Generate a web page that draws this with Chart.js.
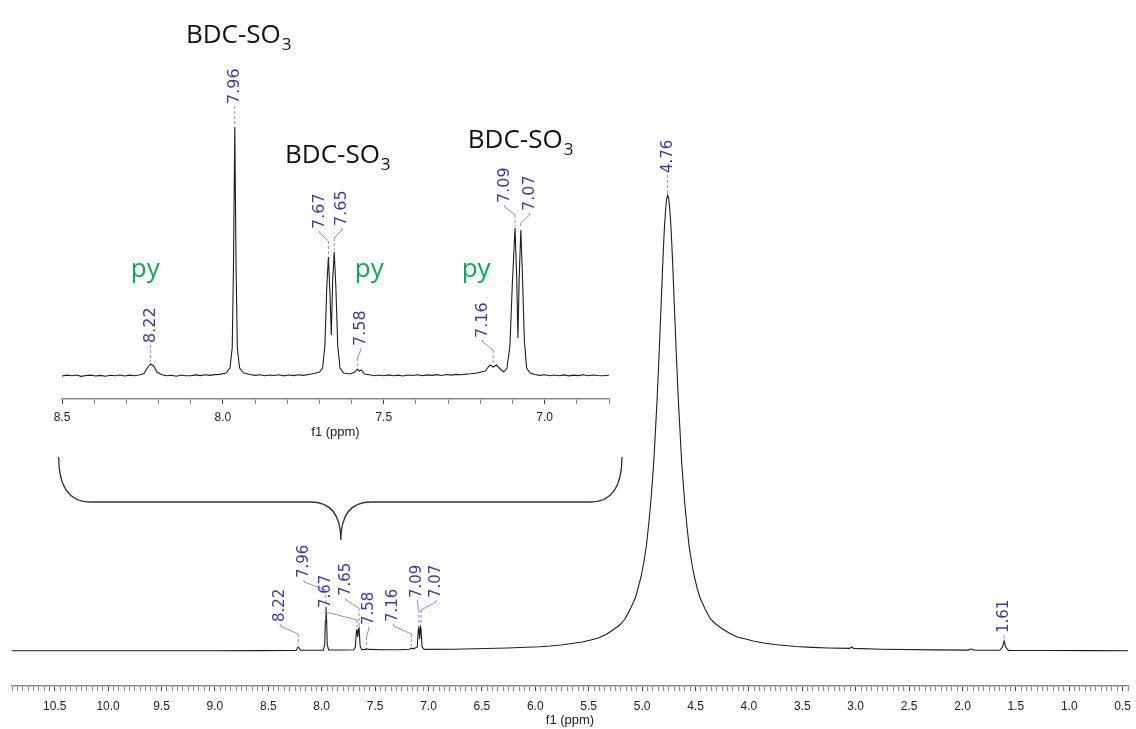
<!DOCTYPE html>
<html>
<head>
<meta charset="utf-8">
<script src="https://cdn.jsdelivr.net/npm/chart.js@4.4.1/dist/chart.umd.min.js"></script>
<style>
    body { margin: 0; background: #fff; }
    #wrap { position: relative; width: 1136px; height: 729px; }
    #mainChart { position: absolute; left: 0; top: 0; }
    #insetChart { position: absolute; left: 0; top: 0; }
</style>
</head>
<body>
<div id="wrap">
    <canvas id="mainChart" width="1136" height="729"></canvas>
    <canvas id="insetChart" width="640" height="445"></canvas>
</div>
<script>
/* Spectrum data (chemical shift in ppm, intensity) */
var mainShift = [10.9, 10.5, 10.0, 9.5, 9.0, 8.6, 8.3, 8.24, 8.228, 8.22, 8.212, 8.2, 8.1,
    7.985, 7.972, 7.966, 7.96, 7.954, 7.948, 7.935, 7.8, 7.7, 7.685, 7.675, 7.67, 7.663, 7.655,
    7.65, 7.64, 7.625, 7.59, 7.58, 7.57, 7.4, 7.26, 7.18, 7.165, 7.155, 7.14, 7.105, 7.095, 7.09,
    7.083, 7.075, 7.07, 7.06, 7.04, 6.76, 6.26, 5.96, 5.86, 5.76, 5.66, 5.56, 5.48, 5.41, 5.33,
    5.26, 5.21, 5.16, 5.11, 5.06, 5.01, 4.985, 4.96, 4.94, 4.92, 4.905, 4.89, 4.875, 4.86, 4.85,
    4.84, 4.83, 4.82, 4.81, 4.80, 4.79, 4.78, 4.77, 4.76, 4.75, 4.74, 4.73, 4.72, 4.71, 4.70,
    4.69, 4.68, 4.67, 4.66, 4.645, 4.63, 4.615, 4.60, 4.58, 4.56, 4.535, 4.51, 4.485, 4.46, 4.41,
    4.36, 4.31, 4.26, 4.185, 4.11, 4.03, 3.96, 3.86, 3.76, 3.66, 3.56, 3.41, 3.26, 3.06, 3.035,
    3.02, 2.76, 2.26, 1.95, 1.92, 1.89, 1.65, 1.625, 1.61, 1.595, 1.57, 1.2, 0.8, 0.45];
var mainIntensity = [0.2, 0.3, 0.2, 0.3, 0.3, 0.4, 0.5, 0.6, 3, 4, 3, 0.7, 0.7,
    0.9, 6, 30, 44, 30, 6, 1, 1, 1.2, 4, 20, 22, 14, 22,
    23, 5, 1.3, 1.6, 2.3, 1.6, 1.3, 1.3, 1.8, 2.6, 2.6, 2.2, 4, 22, 25,
    12, 24, 22, 4, 1.6, 1.8, 3, 4.3, 5, 6, 7.5, 9, 11, 13, 17,
    22, 26, 32, 42, 54, 74, 88, 105, 125, 147, 168, 190, 220, 250, 274,
    298, 325, 351, 378, 403, 425, 441, 452, 456, 452, 441, 425, 403, 378, 351,
    325, 298, 274, 250, 220, 190, 168, 147, 125, 105, 88, 74, 63, 54, 42,
    32, 27, 23, 18, 14, 12, 10, 8, 6.5, 5.5, 4.5, 3.6, 3, 2.6, 4,
    2.6, 1.8, 1.1, 0.9, 2, 0.9, 0.7, 4, 10, 4, 0.6, 0.5, 0.4, 0.3];

var insetShift = [8.5, 8.485, 8.47, 8.455, 8.44, 8.425, 8.41, 8.395, 8.38, 8.365, 8.35, 8.335,
    8.32, 8.305, 8.29, 8.275, 8.26, 8.245, 8.235, 8.225, 8.215, 8.205, 8.19, 8.175, 8.16, 8.145,
    8.13, 8.115, 8.10, 8.085, 8.07, 8.055, 8.04, 8.025, 8.01, 7.99, 7.978, 7.971, 7.967, 7.963,
    7.959, 7.955, 7.948, 7.935, 7.915, 7.9, 7.885, 7.87, 7.855, 7.84, 7.825, 7.81, 7.795, 7.78,
    7.765, 7.75, 7.735, 7.715, 7.70, 7.69, 7.683, 7.677, 7.672, 7.667, 7.663, 7.659, 7.654, 7.649,
    7.643, 7.636, 7.625, 7.605, 7.59, 7.582, 7.576, 7.57, 7.56, 7.545, 7.53, 7.515, 7.5, 7.485,
    7.47, 7.455, 7.44, 7.425, 7.41, 7.395, 7.38, 7.365, 7.35, 7.335, 7.32, 7.305, 7.29, 7.275,
    7.26, 7.245, 7.23, 7.21, 7.185, 7.17, 7.16, 7.15, 7.138, 7.127, 7.117, 7.108, 7.1, 7.092,
    7.087, 7.083, 7.079, 7.074, 7.069, 7.063, 7.056, 7.045, 7.03, 7.015, 7.0, 6.985, 6.97, 6.955,
    6.94, 6.925, 6.91, 6.895, 6.88, 6.865, 6.85, 6.835, 6.82, 6.8];
var insetIntensity = [0, 0.9, 0.2, 1, -0.4, 0.5, 0.9, 0, 0.6, -0.2, 0.8, 0.2,
    1, 0, 0.9, 0.3, 1, 2.5, 8, 12, 10, 4, 1.2, 0.2, 0.8, -0.2,
    1, 0.3, 0.2, 1.1, 0.4, 1.2, 0.6, 1.4, 1.6, 3, 8, 28, 110, 249,
    110, 28, 8, 3, 1.5, 0.6, 1.3, 0.2, 1, 0.5, 1.2, 0.1, 1, 0.4,
    1.3, 0.6, 1.5, 2.5, 4, 8, 30, 90, 119, 80, 41, 95, 124, 90,
    30, 8, 3, 2, 4, 7, 5, 6, 2, 1.2, 0.3, 1, 0.2, 1.1,
    0.3, 0.9, 0, 1, 0.5, 1.3, 0.4, 1.1, 0.6, 1.4, 0.5, 1.5, 0.9, 1.6,
    1.2, 1.9, 2.2, 3, 5, 11, 9, 11, 7, 4, 8, 30, 95, 148,
    100, 38, 100, 146, 100, 35, 8, 3, 1.5, 0.6, 1.2, 0.2, 1, 0.3,
    1.1, 0.1, 0.9, 0.4, 1.2, 0.2, 1, 0.5, 0.3, 0.8];

/* Peak picks: label text, shift and top of the peak */
var mainPeakText = ['8.22', '7.96', '7.67', '7.65', '7.58', '7.16', '7.09', '7.07', '4.76', '1.61'];
var mainPeakShift = [8.22, 7.96, 7.67, 7.65, 7.58, 7.16, 7.09, 7.07, 4.76, 1.61];
var mainPeakHeight = [4, 44, 22, 23, 2.3, 2.6, 25, 24, 456, 10];

var insetPeakText = ['8.22', '7.96', '7.67', '7.65', '7.58', '7.16', '7.09', '7.07'];
var insetPeakShift = [8.225, 7.963, 7.672, 7.654, 7.582, 7.16, 7.092, 7.074];
var insetPeakHeight = [12, 249, 119, 124, 7, 11, 148, 146];

/* Axis ticks */
var mainTickLabels = ['10.5', '10.0', '9.5', '9.0', '8.5', '8.0', '7.5', '7.0', '6.5', '6.0',
    '5.5', '5.0', '4.5', '4.0', '3.5', '3.0', '2.5', '2.0', '1.5', '1.0', '0.5'];
var insetTickLabels = ['8.5', '8.0', '7.5', '7.0'];

/* Where each label sits (ppm, intensity of the text's lower end) */
var mainLabelSpot = [[8.388, 29], [8.165, 73], [7.96, 43], [7.774, 55], [7.56, 26],
    [7.328, 29], [7.105, 53], [6.928, 53], [4.76, 478], [1.61, 18]];
var insetLabelSpot = [[8.225, 33], [7.963, 272], [7.699, 147], [7.630, 150], [7.571, 30],
    [7.193, 38], [7.124, 173], [7.047, 165]];

/* Code Starts Here */
document.addEventListener('DOMContentLoaded', function () {
    createMainChart('mainChart');
    createInsetChart('insetChart');
});

/* Helper Functions */
function toPoints(xs, ys) {
    var pts = [];
    for (var i = 0; i < xs.length; i++) {
        pts.push({ x: xs[i], y: ys[i] });
    }
    return pts;
}

function buildLabels(texts, shifts, heights, spots) {
    var items = [];
    for (var i = 0; i < texts.length; i++) {
        items.push({ text: texts[i], px: shifts[i], py: heights[i], lx: spots[i][0], ly: spots[i][1] });
    }
    return items;
}

function tickFormatter(allowed) {
    return function (value) {
        var s = (Math.round(value * 100) / 100).toFixed(1);
        var onHalf = Math.abs(value * 2 - Math.round(value * 2)) < 1e-6;
        return (onHalf && allowed.indexOf(s) >= 0) ? s : '';
    };
}

function isLabelled(allowed) {
    return function (ctx) {
        var v = ctx.tick ? ctx.tick.value : 0;
        var s = (Math.round(v * 100) / 100).toFixed(1);
        return Math.abs(v * 2 - Math.round(v * 2)) < 1e-6 && allowed.indexOf(s) >= 0;
    };
}

// rotated peak labels with the little bent leader line
var peakLabelPlugin = {
    id: 'peakLabels',
    afterDatasetsDraw: function (chart, args, opts) {
        var ctx = chart.ctx;
        var xs = chart.scales.x, ys = chart.scales.y;
        ctx.save();
        opts.items.forEach(function (it) {
            var px = xs.getPixelForValue(it.px), py = ys.getPixelForValue(it.py);
            var lx = xs.getPixelForValue(it.lx), ly = ys.getPixelForValue(it.ly);
            ctx.strokeStyle = '#8c8cd2';
            ctx.lineWidth = 1;
            ctx.setLineDash([]);
            var startY = ly + 2;
            if (Math.abs(lx - px) > 1.5) {
                ctx.beginPath();
                ctx.moveTo(lx, ly + 2);
                ctx.lineTo(lx, ly + 4);
                ctx.lineTo(px, ly + 12);
                ctx.stroke();
                startY = ly + 12;
            }
            ctx.setLineDash([3, 2]);
            ctx.beginPath();
            ctx.moveTo(px, startY);
            ctx.lineTo(px, py - 2);
            ctx.stroke();
            ctx.setLineDash([]);

            ctx.save();
            ctx.translate(lx, ly);
            ctx.rotate(-Math.PI / 2);
            ctx.fillStyle = '#3a3aae';
            ctx.font = opts.font;
            ctx.textAlign = 'left';
            ctx.textBaseline = 'middle';
            ctx.fillText(it.text, 0, 0);
            ctx.restore();
        });
        ctx.restore();
    }
};

// free text (BDC-SO3 / py) placed in data coordinates of the inset
var annotationPlugin = {
    id: 'notes',
    afterDraw: function (chart, args, opts) {
        var ctx = chart.ctx;
        var xs = chart.scales.x, ys = chart.scales.y;
        ctx.save();
        ctx.textBaseline = 'alphabetic';
        ctx.textAlign = 'left';
        opts.items.forEach(function (n) {
            var x = xs.getPixelForValue(n.x), y = ys.getPixelForValue(n.y);
            ctx.fillStyle = n.color;
            ctx.font = '26px "Open Sans"';
            ctx.fillText(n.text, x, y);
            if (n.sub) {
                var w = ctx.measureText(n.text).width;
                ctx.font = '17px "Open Sans"';
                ctx.fillText(n.sub, x + w + 1, y + 7);
            }
        });
        ctx.restore();
    }
};

// curly brace that points from the inset down to the aromatic region
var bracePlugin = {
    id: 'brace',
    afterDraw: function (chart, args, opts) {
        var ctx = chart.ctx;
        var xs = chart.scales.x, ys = chart.scales.y;
        var L = xs.getPixelForValue(opts.from), R = xs.getPixelForValue(opts.to);
        var T = xs.getPixelForValue(opts.tip);
        var yTop = ys.getPixelForValue(opts.top), yLine = ys.getPixelForValue(opts.line);
        var yTip = ys.getPixelForValue(opts.point);
        var r = yLine - yTop, r2 = yTip - yLine;
        ctx.save();
        ctx.strokeStyle = '#333';
        ctx.lineWidth = 1.3;
        ctx.beginPath();
        ctx.moveTo(L, yTop);
        ctx.quadraticCurveTo(L, yLine, L + r * 0.7, yLine);
        ctx.lineTo(T - r2 * 0.8, yLine);
        ctx.quadraticCurveTo(T, yLine, T, yTip);
        ctx.quadraticCurveTo(T, yLine, T + r2 * 0.8, yLine);
        ctx.lineTo(R - r * 0.7, yLine);
        ctx.quadraticCurveTo(R, yLine, R, yTop);
        ctx.stroke();
        ctx.restore();
    }
};

function axisOptions(min, max, step, labels, tickLen, pad, height, titlePad) {
    var major = isLabelled(labels);
    return {
        type: 'linear',
        reverse: true,
        min: min,
        max: max,
        afterFit: function (scale) { scale.height = height; },
        border: { display: true, color: '#8a8a8a', width: 1.5 },
        grid: {
            drawOnChartArea: false,
            tickLength: tickLen,
            tickColor: function (ctx) { return major(ctx) ? '#444' : '#888'; },
            tickWidth: 1
        },
        ticks: {
            stepSize: step,
            autoSkip: false,
            maxRotation: 0,
            minRotation: 0,
            padding: pad,
            color: '#222',
            font: { family: 'Liberation Sans', size: 12 },
            callback: tickFormatter(labels)
        },
        title: {
            display: true,
            text: 'f1 (ppm)',
            color: '#222',
            font: { family: 'Liberation Sans', size: 13 },
            padding: titlePad
        }
    };
}

function createMainChart(chartName) {
    var canvas = document.getElementById(chartName);
    new Chart(canvas, {
        type: 'line',
        data: {
            datasets: [{
                data: toPoints(mainShift, mainIntensity),
                borderColor: '#1e1e1e',
                borderWidth: 1.1,
                pointRadius: 0,
                tension: 0,
                fill: false
            }]
        },
        options: {
            responsive: false,
            animation: false,
            devicePixelRatio: 1,
            layout: { padding: { left: 12, right: 1, top: 0, bottom: 0 } },
            scales: {
                x: axisOptions(0.45, 10.9, 0.05, mainTickLabels, 5, 8, 43, { top: 0, bottom: 1 }),
                y: { display: false, min: -35, max: 651 }
            },
            plugins: {
                legend: { display: false },
                tooltip: { enabled: false },
                peakLabels: {
                    font: '15px "DejaVu Sans"',
                    items: buildLabels(mainPeakText, mainPeakShift, mainPeakHeight, mainLabelSpot)
                },
                brace: { from: 10.463, to: 5.188, tip: 7.821, top: 194, line: 149, point: 111 }
            }
        },
        plugins: [peakLabelPlugin, bracePlugin]
    });
}

function createInsetChart(chartName) {
    var canvas = document.getElementById(chartName);
    var notes = [
        { text: 'BDC-SO', sub: '3', x: 8.115, y: 333, color: '#111' },
        { text: 'BDC-SO', sub: '3', x: 7.807, y: 213, color: '#111' },
        { text: 'BDC-SO', sub: '3', x: 7.239, y: 228, color: '#111' },
        { text: 'py', x: 8.286, y: 99, color: '#00b050' },
        { text: 'py', x: 7.590, y: 99, color: '#00b050' },
        { text: 'py', x: 7.258, y: 99, color: '#00b050' }
    ];
    new Chart(canvas, {
        type: 'line',
        data: {
            datasets: [{
                data: toPoints(insetShift, insetIntensity),
                borderColor: '#1e1e1e',
                borderWidth: 1.1,
                pointRadius: 0,
                tension: 0,
                fill: false
            }]
        },
        options: {
            responsive: false,
            animation: false,
            devicePixelRatio: 1,
            layout: { padding: { left: 62, right: 31, top: 40, bottom: 0 } },
            scales: {
                x: axisOptions(6.8, 8.5, 0.1, insetTickLabels, 5, 6, 46, { top: 0, bottom: 5 }),
                y: { display: false, min: -23, max: 336 }
            },
            plugins: {
                legend: { display: false },
                tooltip: { enabled: false },
                peakLabels: {
                    font: '16px "DejaVu Sans"',
                    items: buildLabels(insetPeakText, insetPeakShift, insetPeakHeight, insetLabelSpot)
                },
                notes: { items: notes }
            }
        },
        plugins: [peakLabelPlugin, annotationPlugin]
    });
}
</script>
</body>
</html>
